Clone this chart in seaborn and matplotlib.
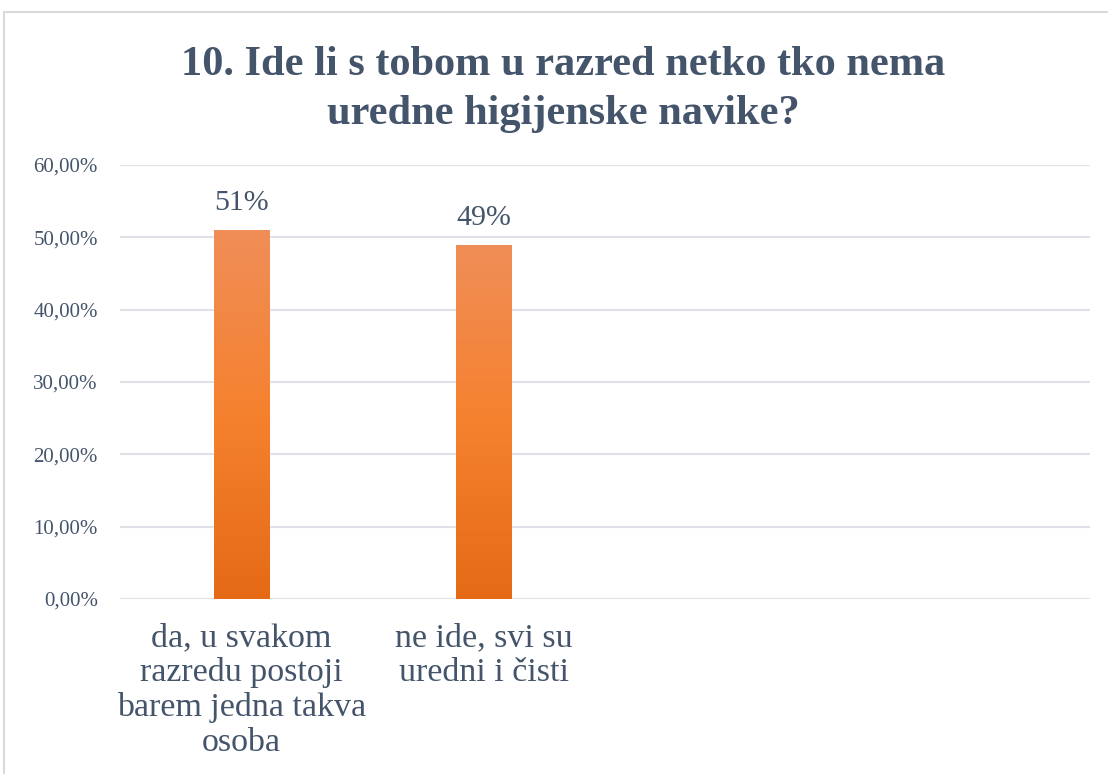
import matplotlib
matplotlib.use("Agg")
import matplotlib.pyplot as plt
import matplotlib.patches as mpatches
from matplotlib.colors import LinearSegmentedColormap
import numpy as np
import pandas as pd
import seaborn as sns

categories = ["da, u svakom\nrazredu postoji\nbarem jedna takva\nosoba",
              "ne ide, svi su\nuredni i čisti"]
values = [51, 49]
value_labels = ["51%", "49%"]
yticks = [0, 10, 20, 30, 40, 50, 60]
title = "10. Ide li s tobom u razred netko tko nema\nuredne higijenske navike?"

sns.set_theme(style="white")
FONT = "Liberation Serif"
plt.rcParams['font.family'] = FONT
plt.rcParams['font.serif'] = [FONT]

TXT = "#44546A"
GRID = "#DEE2E8"

fig = plt.figure(figsize=(11.08, 7.74), dpi=100)
fig.patch.set_facecolor("white")
ax = fig.add_axes([120/1108, 1-599/774, 970/1108, (599-165)/774])

df = pd.DataFrame({"cat": categories, "val": values})
sns.barplot(data=df, x="cat", y="val", color="#F4812F", width=0.227, ax=ax,
            saturation=1)

cmap = LinearSegmentedColormap.from_list("og", ["#E56A16", "#F5812E", "#F08E58"])
grad = np.linspace(0, 1, 256).reshape(-1, 1)
for p in ax.patches:
    x0, y0 = p.get_x(), p.get_y()
    w, h = p.get_width(), p.get_height()
    im = ax.imshow(grad, cmap=cmap, origin="lower", aspect="auto",
                   extent=[x0, x0 + w, y0, y0 + h], zorder=3)
    im.set_clip_path(p)

ax.set_xlim(-0.5, 3.5)
ax.set_ylim(0, 60)
ax.set_yticks(yticks)
ax.set_yticklabels([f"{v:.2f}%".replace(".", ",") for v in yticks],
                   family=FONT, fontsize=15, color=TXT)
ax.set_xticks(range(len(categories)))
ax.set_xticklabels(categories, family=FONT, fontsize=24.5, color=TXT,
                   linespacing=1.17)
ax.yaxis.grid(True, color=GRID, linewidth=1.5)
ax.set_axisbelow(True)
for s in ax.spines.values():
    s.set_visible(False)
ax.set_xlabel("")
ax.set_ylabel("")
ax.tick_params(axis="y", length=0, pad=16)
ax.tick_params(axis="x", length=0, pad=17)

for i, (v, t) in enumerate(zip(values, value_labels)):
    ax.annotate(t, (i, v), xytext=(0, 10), textcoords="offset points",
                ha="center", va="bottom", fontsize=21.5, color=TXT, family=FONT)

fig.text(563/1108, 1-89.5/774, title, ha="center", va="center", family=FONT,
         fontsize=30.5, fontweight="bold", color=TXT, linespacing=1.36)

border = mpatches.Rectangle((4/1108, -0.1), 1.2, 1.1 - 12/774,
                            transform=fig.transFigure, fill=False,
                            edgecolor="#D9D9D9", linewidth=1.5)
fig.patches.append(border)

fig.savefig("out.png", dpi=100, facecolor="white")
